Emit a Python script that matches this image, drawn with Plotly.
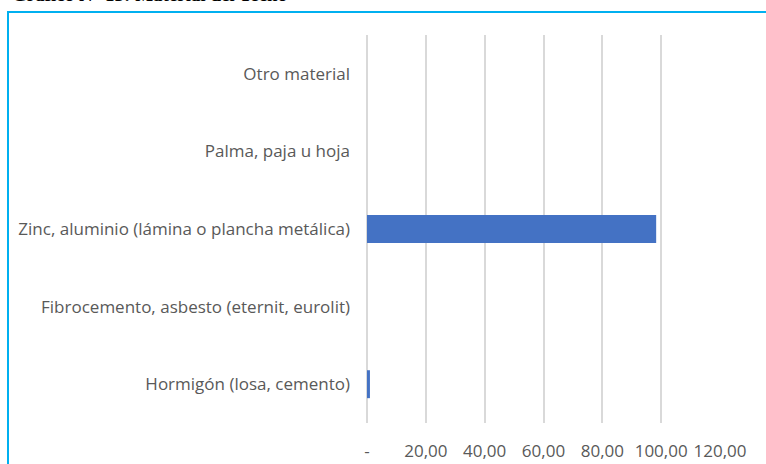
import plotly.graph_objects as go

# Material del techo (porcentaje de viviendas)
categorias = [
    "Hormigón (losa, cemento)",
    "Fibrocemento, asbesto (eternit, eurolit)",
    "Zinc, aluminio (lámina o plancha metálica)",
    "Palma, paja u hoja",
    "Otro material",
]
porcentajes = [1.0, 0.0, 98.3, 0.0, 0.0]

tick_valores = [0, 20, 40, 60, 80, 100, 120]
tick_textos = ["-", "20,00", "40,00", "60,00", "80,00", "100,00", "120,00"]

titulo = "Gráfico N° 13: Material del Techo"

W, H = 766, 464
ML, MR, MT, MB = 367, 46, 35, 41
pw, ph = W - ML - MR, H - MT - MB


def px_x(p):
    return (p - ML) / pw


def px_y(p):
    return (H - MB - p) / ph


fuente = "Open Sans, Liberation Sans, sans-serif"

fig = go.Figure(
    go.Bar(
        x=porcentajes,
        y=categorias,
        orientation="h",
        marker=dict(color="#4472C4", line=dict(width=0)),
        hoverinfo="skip",
    )
)

fig.update_layout(
    width=W,
    height=H,
    margin=dict(l=ML, r=MR, t=MT, b=MB, pad=0),
    paper_bgcolor="white",
    plot_bgcolor="white",
    bargap=0.64,
    showlegend=False,
    font=dict(family=fuente, color="#595959", size=17),
    xaxis=dict(
        range=[0, 120],
        tickvals=tick_valores,
        ticktext=tick_textos,
        showgrid=True,
        gridcolor="#D9D9D9",
        gridwidth=1.5,
        zeroline=True,
        zerolinecolor="#D9D9D9",
        zerolinewidth=1.5,
        showline=False,
        ticks="",
        ticklabelstandoff=16,
        tickfont=dict(family=fuente, size=17, color="#595959"),
        automargin=False,
        fixedrange=True,
    ),
    yaxis=dict(
        type="category",
        categoryorder="array",
        categoryarray=categorias,
        showgrid=False,
        zeroline=False,
        showline=False,
        ticks="",
        ticklabelstandoff=16,
        tickfont=dict(family=fuente, size=17, color="#595959"),
        automargin=False,
        fixedrange=True,
    ),
    shapes=[
        dict(
            type="rect",
            xref="paper",
            yref="paper",
            x0=px_x(8),
            x1=px_x(W + 20),
            y0=px_y(H + 20),
            y1=px_y(12),
            line=dict(color="#00B0F0", width=2),
            fillcolor="rgba(0,0,0,0)",
            layer="below",
        )
    ],
    annotations=[
        dict(
            text="<b>" + titulo + "</b>",
            xref="paper",
            yref="paper",
            x=px_x(10),
            y=px_y(7),
            xanchor="left",
            yanchor="bottom",
            showarrow=False,
            font=dict(family="Liberation Serif, Times New Roman, serif", size=19, color="black"),
        )
    ],
)

fig.write_html("out.html")
